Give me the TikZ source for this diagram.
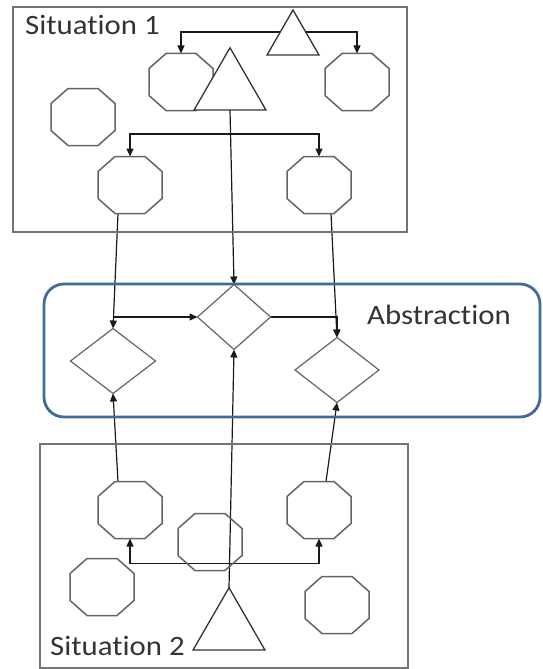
\documentclass[tikz,border=0pt]{standalone}
\usepackage{fontspec}
\setmainfont[Ligatures=NoCommon]{Carlito}
\usetikzlibrary{shapes.geometric,arrows.meta,calc}
\pgfdeclarelayer{bg}
\pgfsetlayers{bg,main}
\definecolor{absblue}{RGB}{65,106,153}
\definecolor{shapegray}{RGB}{100,100,100}
\begin{document}
\begin{tikzpicture}[x=1pt,y=-1pt,
  octbox/.style={minimum width=64pt,minimum height=57pt,inner sep=0pt,outer sep=0pt,draw=none},
  octline/.style={draw=shapegray,line width=1.5pt},
  dia/.style={diamond,draw=shapegray,line width=1.2pt,inner sep=0pt,outer sep=0pt,minimum height=65pt},
  tri/.style={regular polygon,regular polygon sides=3,draw=black!80,fill=white,line width=1.3pt,inner sep=0pt,outer sep=0pt},
  sitbox/.style={draw=black!55,line width=1.4pt,inner sep=0pt},
  lbl/.style={font=\fontsize{28}{30}\selectfont\addfontfeature{FakeStretch=1.1},text=black!80,inner sep=0pt},
  conn/.style={draw=black!90,line width=1.2pt},
  arr/.style={conn,-{Triangle[length=8pt,width=7pt]}},
]
\useasboundingbox (0,0) rectangle (542,669);

% frames
\node[sitbox,minimum width=394pt,minimum height=225pt] (S1) at (210,119.5) {};
\node[sitbox,minimum width=368pt,minimum height=224pt] (S2) at (224,556) {};
\node[draw=absblue,line width=2.8pt,rounded corners=20pt,minimum width=496pt,minimum height=133pt,inner sep=0pt] (abs) at (292,350.5) {};

% labels
\node[lbl,anchor=west] (l1) at (25,25) {Situation 1};
\node[lbl,anchor=west] (l2) at (50,646) {Situation 2};
\node[lbl,anchor=west] (l3) at (367,315) {Abstraction};

% octagons (placeholders)
\node[octbox] (O1a) at (181,82) {};
\node[octbox] (O1b) at (357,82) {};
\node[octbox] (O1c) at (83,117) {};
\node[octbox] (O1d) at (130,185) {};
\node[octbox] (O1e) at (319,185) {};
\node[octbox] (O2a) at (130,510) {};
\node[octbox] (O2b) at (319,510) {};
\node[octbox] (O2c) at (210,542) {};
\node[octbox] (O2d) at (102,587) {};
\node[octbox] (O2e) at (337,605) {};
\foreach \n in {O1a,O1b,O1c,O1d,O1e,O2a,O2b,O2c,O2d,O2e}
  \draw[octline] ($(\n.north west)+(17,0)$) -- ($(\n.north east)+(-17,0)$)
    -- ($(\n.north east)+(0,15)$) -- ($(\n.south east)+(0,-15)$)
    -- ($(\n.south east)+(-17,0)$) -- ($(\n.south west)+(17,0)$)
    -- ($(\n.south west)+(0,-15)$) -- ($(\n.north west)+(0,15)$) -- cycle;

% diamonds
\node[dia,minimum width=85pt] (D1) at (113,361) {};
\node[dia,minimum width=73pt] (D2) at (234,317) {};
\node[dia,minimum width=84pt] (D3) at (337,370) {};

% triangles
\node[tri,minimum size=60pt] (T1) at (293,40) {};
\node[tri,minimum size=83pt] (T2) at (230,89.25) {};
\node[tri,minimum size=83pt] (T3) at (229,629.25) {};

% connectors
\begin{pgfonlayer}{bg}
\draw[arr] ([yshift=8pt]T1.center) -| (O1a.north);
\draw[arr] ([yshift=8pt]T1.center) -| (O1b.north);
\draw[arr] (T2.south) -- (D2.north);
\coordinate (J1) at ($(T2.south)!0.137!(D2.north)$);
\draw[arr] (J1) -| (O1d.north);
\draw[arr] (J1) -| (O1e.north);
\draw[arr] ([xshift=-12pt]O1d.south) -- (D1.north);
\draw[arr] ([xshift=12pt]O1e.south) -- (D3.north);
\coordinate (J2) at (D1.north |- D2.west);
\draw[arr] (J2) -- (D2.west);
\draw[arr] (D2.east) -| (D3.north);
\draw[arr] (T3.corner 1) -- (D2.south);
\coordinate (J3) at ($(T3.corner 1)!0.102!(D2.south)$);
\draw[arr] (J3) -| (O2a.south);
\draw[arr] (J3) -| (O2b.south);
\draw[arr] ([xshift=-12pt]O2a.north) -- (D1.south);
\draw[arr] ([xshift=7pt]O2b.north) -- (D3.south);
\end{pgfonlayer}
\end{tikzpicture}
\end{document}
